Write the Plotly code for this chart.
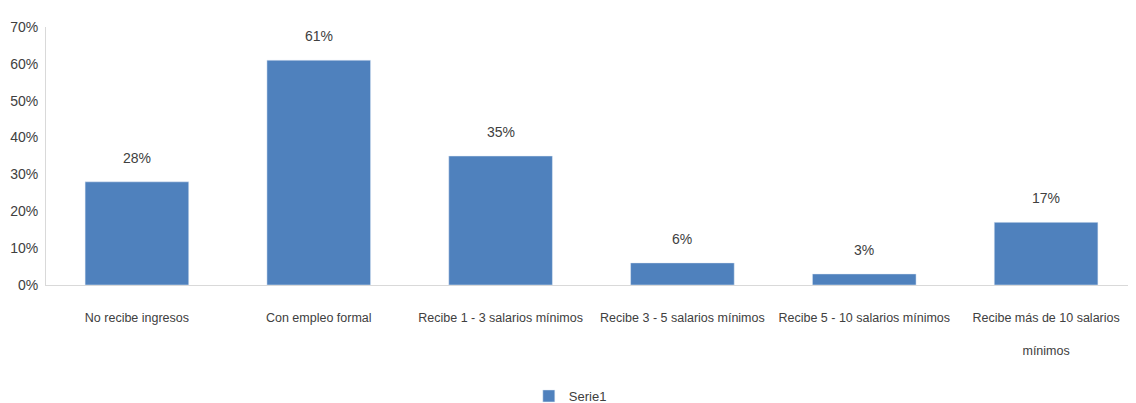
import plotly.graph_objects as go

categories = ["No recibe ingresos", "Con empleo formal", "Recibe 1 - 3 salarios mínimos",
              "Recibe 3 - 5 salarios mínimos", "Recibe 5 - 10 salarios mínimos",
              "Recibe más de 10 salarios<br> <br>mínimos"]
values = [0.28, 0.61, 0.35, 0.06, 0.03, 0.17]
labels = ["28%", "61%", "35%", "6%", "3%", "17%"]
ytick_vals = [0, 0.1, 0.2, 0.3, 0.4, 0.5, 0.6, 0.7]
ytick_text = ["0%", "10%", "20%", "30%", "40%", "50%", "60%", "70%"]
series_name = "Serie1"

FONT = "Liberation Sans, Arial, sans-serif"
TXT = "#404040"

fig = go.Figure()
fig.add_trace(go.Bar(x=categories, y=values, name=series_name,
                     marker=dict(color="#4F81BD"), showlegend=True))

for c, v, t in zip(categories, values, labels):
    fig.add_annotation(x=c, y=v, text=t, showarrow=False, yshift=24,
                       font=dict(family=FONT, size=14, color=TXT))

fig.update_layout(
    width=1136, height=403,
    margin=dict(l=38, r=7, t=19, b=126),
    plot_bgcolor="white", paper_bgcolor="white",
    bargap=0.43,
    font=dict(family=FONT, size=13, color=TXT),
    showlegend=True,
    legend=dict(orientation="h", xref="container", x=0.495, xanchor="center",
                yref="container", y=0.0, yanchor="bottom",
                font=dict(family=FONT, size=13, color=TXT)),
)
fig.update_xaxes(showline=True, linecolor="#D9D9D9", linewidth=1, ticks="",
                 tickangle=0, automargin=False,
                 tickfont=dict(family=FONT, size=12.5, color=TXT), ticklabelstandoff=21)
fig.update_yaxes(range=[0, 0.7], tickvals=ytick_vals, ticktext=ytick_text,
                 showgrid=False, zeroline=False, showline=True, linecolor="#D9D9D9",
                 linewidth=1, ticks="", automargin=False, ticklabelstandoff=4,
                 tickfont=dict(family=FONT, size=14, color=TXT))

fig.write_html("out.html")
